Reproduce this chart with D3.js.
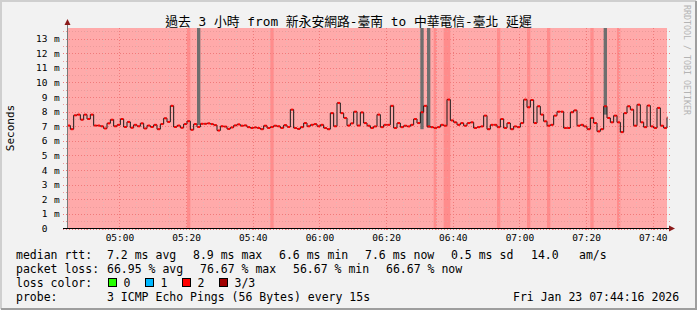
<!DOCTYPE html>
<html>
<head>
<meta charset="utf-8">
<script src="https://cdn.jsdelivr.net/npm/d3@7"></script>
<style>
body { margin:0; background:#f2f2f2; }
svg text { font-family:"DejaVu Sans Mono","Noto Sans CJK TC",monospace; white-space:pre; }
</style>
</head>
<body>
<script>
// median rtt in ms, one value per minute from 04:44:16
var medianMs = [7.05,6.8,7.75,7.8,7.45,7.8,7.5,7.8,7.05,7.05,7.0,6.85,7.2,7.45,7.0,7.1,7.5,6.95,7.3,6.9,
  7.1,7.0,7.2,6.85,7.05,6.95,7.1,6.8,7.15,7.55,7.3,8.4,6.95,7.05,6.9,7.15,7.35,6.76,7.15,6.95,
  7.17,7.17,7.2,7.15,7.08,6.71,7.0,6.98,6.82,6.92,7.06,7.13,7.04,7.06,6.94,6.88,6.92,6.88,6.8,7.04,
  6.88,6.95,7.04,7.0,6.88,7.08,6.95,8.14,6.88,6.82,6.94,7.22,7.0,7.1,7.15,7.0,7.1,6.88,6.8,7.9,
  7.0,8.6,7.9,7.57,7.05,7.2,8.0,7.05,7.95,7.22,7.04,6.88,6.99,7.8,6.94,7.1,7.1,8.4,6.88,7.22,
  6.94,7.04,6.99,7.1,7.5,7.22,7.96,8.4,6.99,6.94,6.88,6.94,7.1,7.04,8.83,7.4,7.27,7.1,7.22,7.04,
  7.22,7.27,6.88,6.94,6.99,7.73,6.8,7.1,7.1,6.94,7.5,6.88,7.22,6.8,6.99,6.94,7.22,8.83,8.3,8.8,
  7.22,8.37,7.8,7.34,7.04,7.1,7.73,8.0,8.0,6.88,6.88,7.96,8.09,7.04,7.1,6.99,6.8,7.57,7.22,6.65,
  6.8,8.37,7.57,7.27,7.73,7.27,6.6,7.9,8.37,8.14,7.04,8.48,7.27,6.94,8.42,6.99,6.88,8.26,7.04,6.88,7.6];

// minutes where all 3 pings were lost (darker band)
var fullLossAt = [36,61,110,113,114,129,138,144,157,165];
// smoke bars reaching off the top
var smokeAt = [39,106,108,161];
var smokeLow = [7.1,6.8,6.9,7.8];

var yTicks = [0,1,2,3,4,5,6,7,8,9,10,11,12,13];
var lossColors = [{label:"0",color:"#26ff00"},{label:"1",color:"#00b8ff"},{label:"2",color:"#ff0000"},{label:"3/3",color:"#a00000"}];

var W = 697, H = 310;
var t0 = new Date(2026,0,23,4,44,16), t1 = new Date(2026,0,23,7,44,16);
function minute(i) { return new Date(t0.getTime() + i*60000); }

var x = d3.scaleTime().domain([t0,t1]).range([67,667]);
var y = d3.scaleLinear().domain([0,13.73]).range([228.5,28]);

var svg = d3.select("body").append("svg").attr("width",W).attr("height",H);

// frame
svg.append("rect").attr("width",W).attr("height",H).attr("fill","#f2f2f2");
svg.append("path").attr("d","M1,"+(H-1)+"V1H"+(W-1)).attr("fill","none").attr("stroke","#cfcfcf").attr("stroke-width",2);
svg.append("path").attr("d","M1,"+(H-1)+"H"+(W-1)+"V1").attr("fill","none").attr("stroke","#9e9e9e").attr("stroke-width",2);

// loss background
var plot = svg.append("g");
plot.append("rect").attr("x",67).attr("y",28).attr("width",600).attr("height",200.5).attr("fill","#ffaaaa");
plot.selectAll("rect.loss3").data(fullLossAt).enter().append("rect").attr("class","loss3")
  .attr("x",function(i){return x(minute(i));}).attr("y",28)
  .attr("width",function(i){return x(minute(i+1))-x(minute(i));}).attr("height",200.5)
  .attr("fill","#ff8c8c");

// grid
var minor = d3.timeMinute.every(5).range(t0,t1);
var major = d3.timeMinute.every(20).range(t0,t1);
var g = svg.append("g");
g.selectAll("line.vmin").data(minor).enter().append("line")
  .attr("x1",function(d){return Math.round(x(d))+0.5;}).attr("x2",function(d){return Math.round(x(d))+0.5;})
  .attr("y1",28).attr("y2",231).attr("stroke","#e8b4b4").attr("stroke-dasharray","1,2");
g.selectAll("line.vmaj").data(major).enter().append("line")
  .attr("x1",function(d){return Math.round(x(d))+0.5;}).attr("x2",function(d){return Math.round(x(d))+0.5;})
  .attr("y1",28).attr("y2",232).attr("stroke","#f07a7a").attr("stroke-dasharray","1,2");
var half = d3.range(0,13.6,0.5);
g.selectAll("line.h").data(half).enter().append("line")
  .attr("x1",63).attr("x2",670)
  .attr("y1",function(d){return Math.round(y(d))+0.5;}).attr("y2",function(d){return Math.round(y(d))+0.5;})
  .attr("stroke",function(d){return d%1==0 ? "#f07a7a" : "#eb9a9a";}).attr("stroke-dasharray","1,2");

// smoke bars (over the grid)
svg.selectAll("rect.smoke").data(smokeAt).enter().append("rect")
  .attr("x",function(i){return x(minute(i));}).attr("y",28)
  .attr("width",function(i){return x(minute(i+1))-x(minute(i));})
  .attr("height",function(i,k){return y(smokeLow[k])-28;})
  .attr("fill","#6e6e6e");

// median line
var pts = medianMs.map(function(v,i){return [minute(i),v];});
var line = d3.line().x(function(d){return x(d[0]);}).y(function(d){return y(d[1]);}).curve(d3.curveStepAfter);
svg.append("path").attr("d",line(pts)).attr("fill","none").attr("stroke","#1a1a1a").attr("stroke-width",1);
svg.selectAll("line.med").data(pts).enter().append("line")
  .attr("x1",function(d){return x(d[0])+0.5;})
  .attr("x2",function(d){return Math.min(x(d[0])+3,667);})
  .attr("y1",function(d){return y(d[1]);}).attr("y2",function(d){return y(d[1]);})
  .attr("stroke","#ff0000").attr("stroke-width",2);

// axes
svg.append("line").attr("x1",67.5).attr("x2",67.5).attr("y1",24).attr("y2",229).attr("stroke","#777");
svg.append("line").attr("x1",63).attr("x2",670).attr("y1",228.5).attr("y2",228.5).attr("stroke","#000");
svg.append("path").attr("d","M64.5,25L70.5,25L67.5,19Z").attr("fill","#8b1a1a");
svg.append("path").attr("d","M669,225.5L669,231.5L675,228.5Z").attr("fill","#8b1a1a");

var xAxis = d3.axisBottom(x).ticks(d3.timeMinute.every(20)).tickFormat(d3.timeFormat("%H:%M")).tickSize(0).tickPadding(5);
var ax = svg.append("g").attr("transform","translate(0,229)").call(xAxis);
ax.select(".domain").remove();
ax.selectAll("text").attr("font-size","9.5px").attr("fill","#000").attr("font-family","DejaVu Sans Mono");

var yAxis = d3.axisLeft(y).tickValues(yTicks).tickSize(0).tickPadding(20)
  .tickFormat(function(d){return d;});
var ay = svg.append("g").attr("transform","translate(67.5,0)").call(yAxis);
ay.select(".domain").remove();
ay.selectAll("text").attr("font-size","9.5px").attr("fill","#000").attr("font-family","DejaVu Sans Mono");
ay.selectAll(".tick").filter(function(d){return d>0;}).append("text")
  .attr("x",-13.5).attr("dy","0.32em").attr("text-anchor","start").attr("font-size","9.5px").attr("fill","#000")
  .attr("font-family","DejaVu Sans Mono").text("m");

// titles
svg.append("text").attr("x",348.5).attr("y",22).attr("dy","0.35em").attr("text-anchor","middle")
  .attr("font-size","12.8px").text("過去 3 小時 from 新永安網路-臺南 to 中華電信-臺北 延遲");
svg.append("text").attr("transform","translate(14,128) rotate(-90)").attr("text-anchor","middle")
  .attr("font-size","11px").text("Seconds");
svg.append("text").attr("transform","translate(684,5) rotate(90)").attr("text-anchor","start")
  .attr("font-size","8.3px").attr("fill","#b4b4b4").text("RRDTOOL / TOBI OETIKER");

// legend
var rows = [
  [[16,"median rtt:"],[107,"7.2 ms avg"],[193,"8.9 ms max"],[279,"6.6 ms min"],[365,"7.6 ms now"],[451,"0.5 ms sd"],[531,"14.0"],[579,"am/s"]],
  [[16,"packet loss:"],[107,"66.95 % avg"],[200,"76.67 % max"],[293,"56.67 % min"],[386,"66.67 % now"]],
  [[16,"loss color:"]],
  [[16,"probe:"],[107,"3 ICMP Echo Pings (56 Bytes) every 15s"],[513,"Fri Jan 23 07:44:16 2026"]]
];
var rowY = [254.5,268.5,282.7,296.7];
rows.forEach(function(r,k){
  r.forEach(function(c){
    svg.append("text").attr("x",c[0]).attr("y",rowY[k]).attr("dy","0.35em").attr("font-size","11.5px").text(c[1]);
  });
});
var lg = svg.selectAll("g.lc").data(lossColors).enter().append("g")
  .attr("transform",function(d,i){return "translate("+(108.5+i*37)+",278.5)";});
lg.append("rect").attr("width",8).attr("height",8).attr("fill",function(d){return d.color;}).attr("stroke","#000");
lg.append("text").attr("x",15).attr("y",4.2).attr("dy","0.35em").attr("font-size","11.5px").text(function(d){return d.label;});
</script>
</body>
</html>
